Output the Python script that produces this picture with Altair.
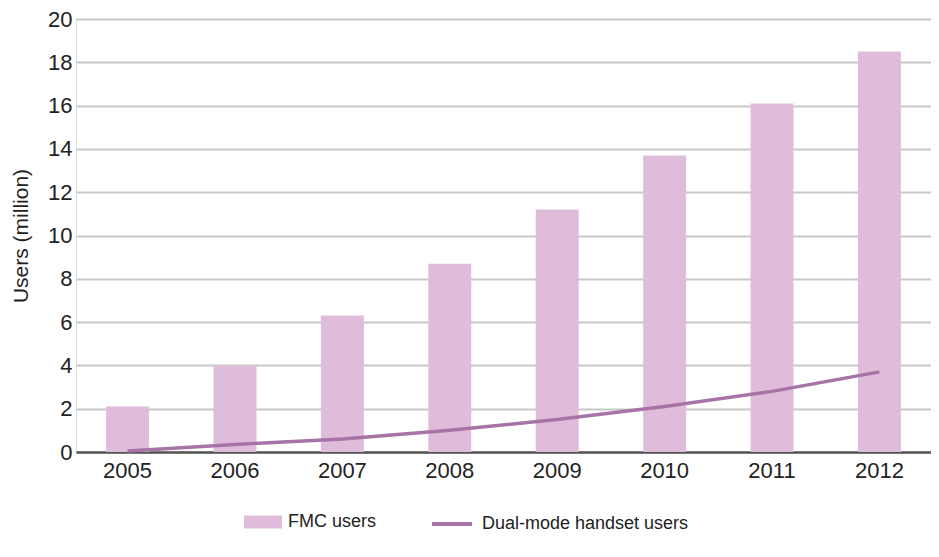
import altair as alt
import pandas as pd

years = ["2005", "2006", "2007", "2008", "2009", "2010", "2011", "2012"]
fmc_users = [2.1, 4.0, 6.3, 8.7, 11.2, 13.7, 16.1, 18.5]
dual_mode_users = [0.05, 0.35, 0.6, 1.0, 1.5, 2.1, 2.8, 3.7]

df = pd.DataFrame({
    "year": years,
    "fmc": fmc_users,
    "dual": dual_mode_users,
    "s_fmc": ["FMC users"] * len(years),
    "s_dual": ["Dual-mode handset users"] * len(years),
})

FONT = "Liberation Sans"
x_enc = alt.X("year:N", title=None, sort=years,
              scale=alt.Scale(paddingInner=0.6, paddingOuter=0.28),
              axis=alt.Axis(labelAngle=0, labelFontSize=22, labelColor="#222",
                            labelPadding=8, ticks=False, domainColor="#555",
                            domainWidth=2.5, grid=False, labelFont=FONT))

y_axis = alt.Axis(title="Users (million)", values=list(range(0, 21, 2)),
                  labelFontSize=22, labelColor="#222", labelPadding=4,
                  ticks=False, domain=False, gridColor="#c8c8c8", gridWidth=2,
                  titleFontSize=21, titleFontWeight="normal", titleColor="#222",
                  titlePadding=16, labelFont=FONT, titleFont=FONT)

bars = alt.Chart(df).mark_bar(opacity=1).encode(
    x=x_enc,
    y=alt.Y("fmc:Q", scale=alt.Scale(domain=[0, 20], nice=False), axis=y_axis),
    fill=alt.Fill("s_fmc:N", title=None,
                  scale=alt.Scale(domain=["FMC users"], range=["#e0bcdb"]),
                  legend=alt.Legend(orient="none", legendX=168, legendY=51 + 433,
                                    symbolType="M-1,-0.34H1V0.34H-1Z", symbolSize=1444,
                                    symbolOpacity=1, labelFontSize=18, labelColor="#222",
                                    labelFont=FONT, labelOffset=6, symbolStrokeWidth=0,
                                    labelLimit=0)),
)

line = alt.Chart(df).mark_line(strokeWidth=3.5).encode(
    x=alt.X("year:N", sort=years),
    y=alt.Y("dual:Q"),
    stroke=alt.Stroke("s_dual:N", title=None,
                      scale=alt.Scale(domain=["Dual-mode handset users"], range=["#a873a6"]),
                      legend=alt.Legend(orient="none", legendX=354, legendY=50 + 433,
                                        symbolType="stroke", symbolSize=1600,
                                        symbolStrokeWidth=4, labelFontSize=18,
                                        labelColor="#222", labelFont=FONT, labelOffset=8,
                                        labelLimit=0)),
)

chart = alt.layer(bars, line).properties(
    width=855, height=433,
    autosize=alt.AutoSizeParams(type="none"),
    padding={"left": 68, "top": 11, "right": 0, "bottom": 90},
).configure_view(stroke=None).configure(background="white")

chart.save("out.html", embed_options={"renderer": "svg", "actions": False})
